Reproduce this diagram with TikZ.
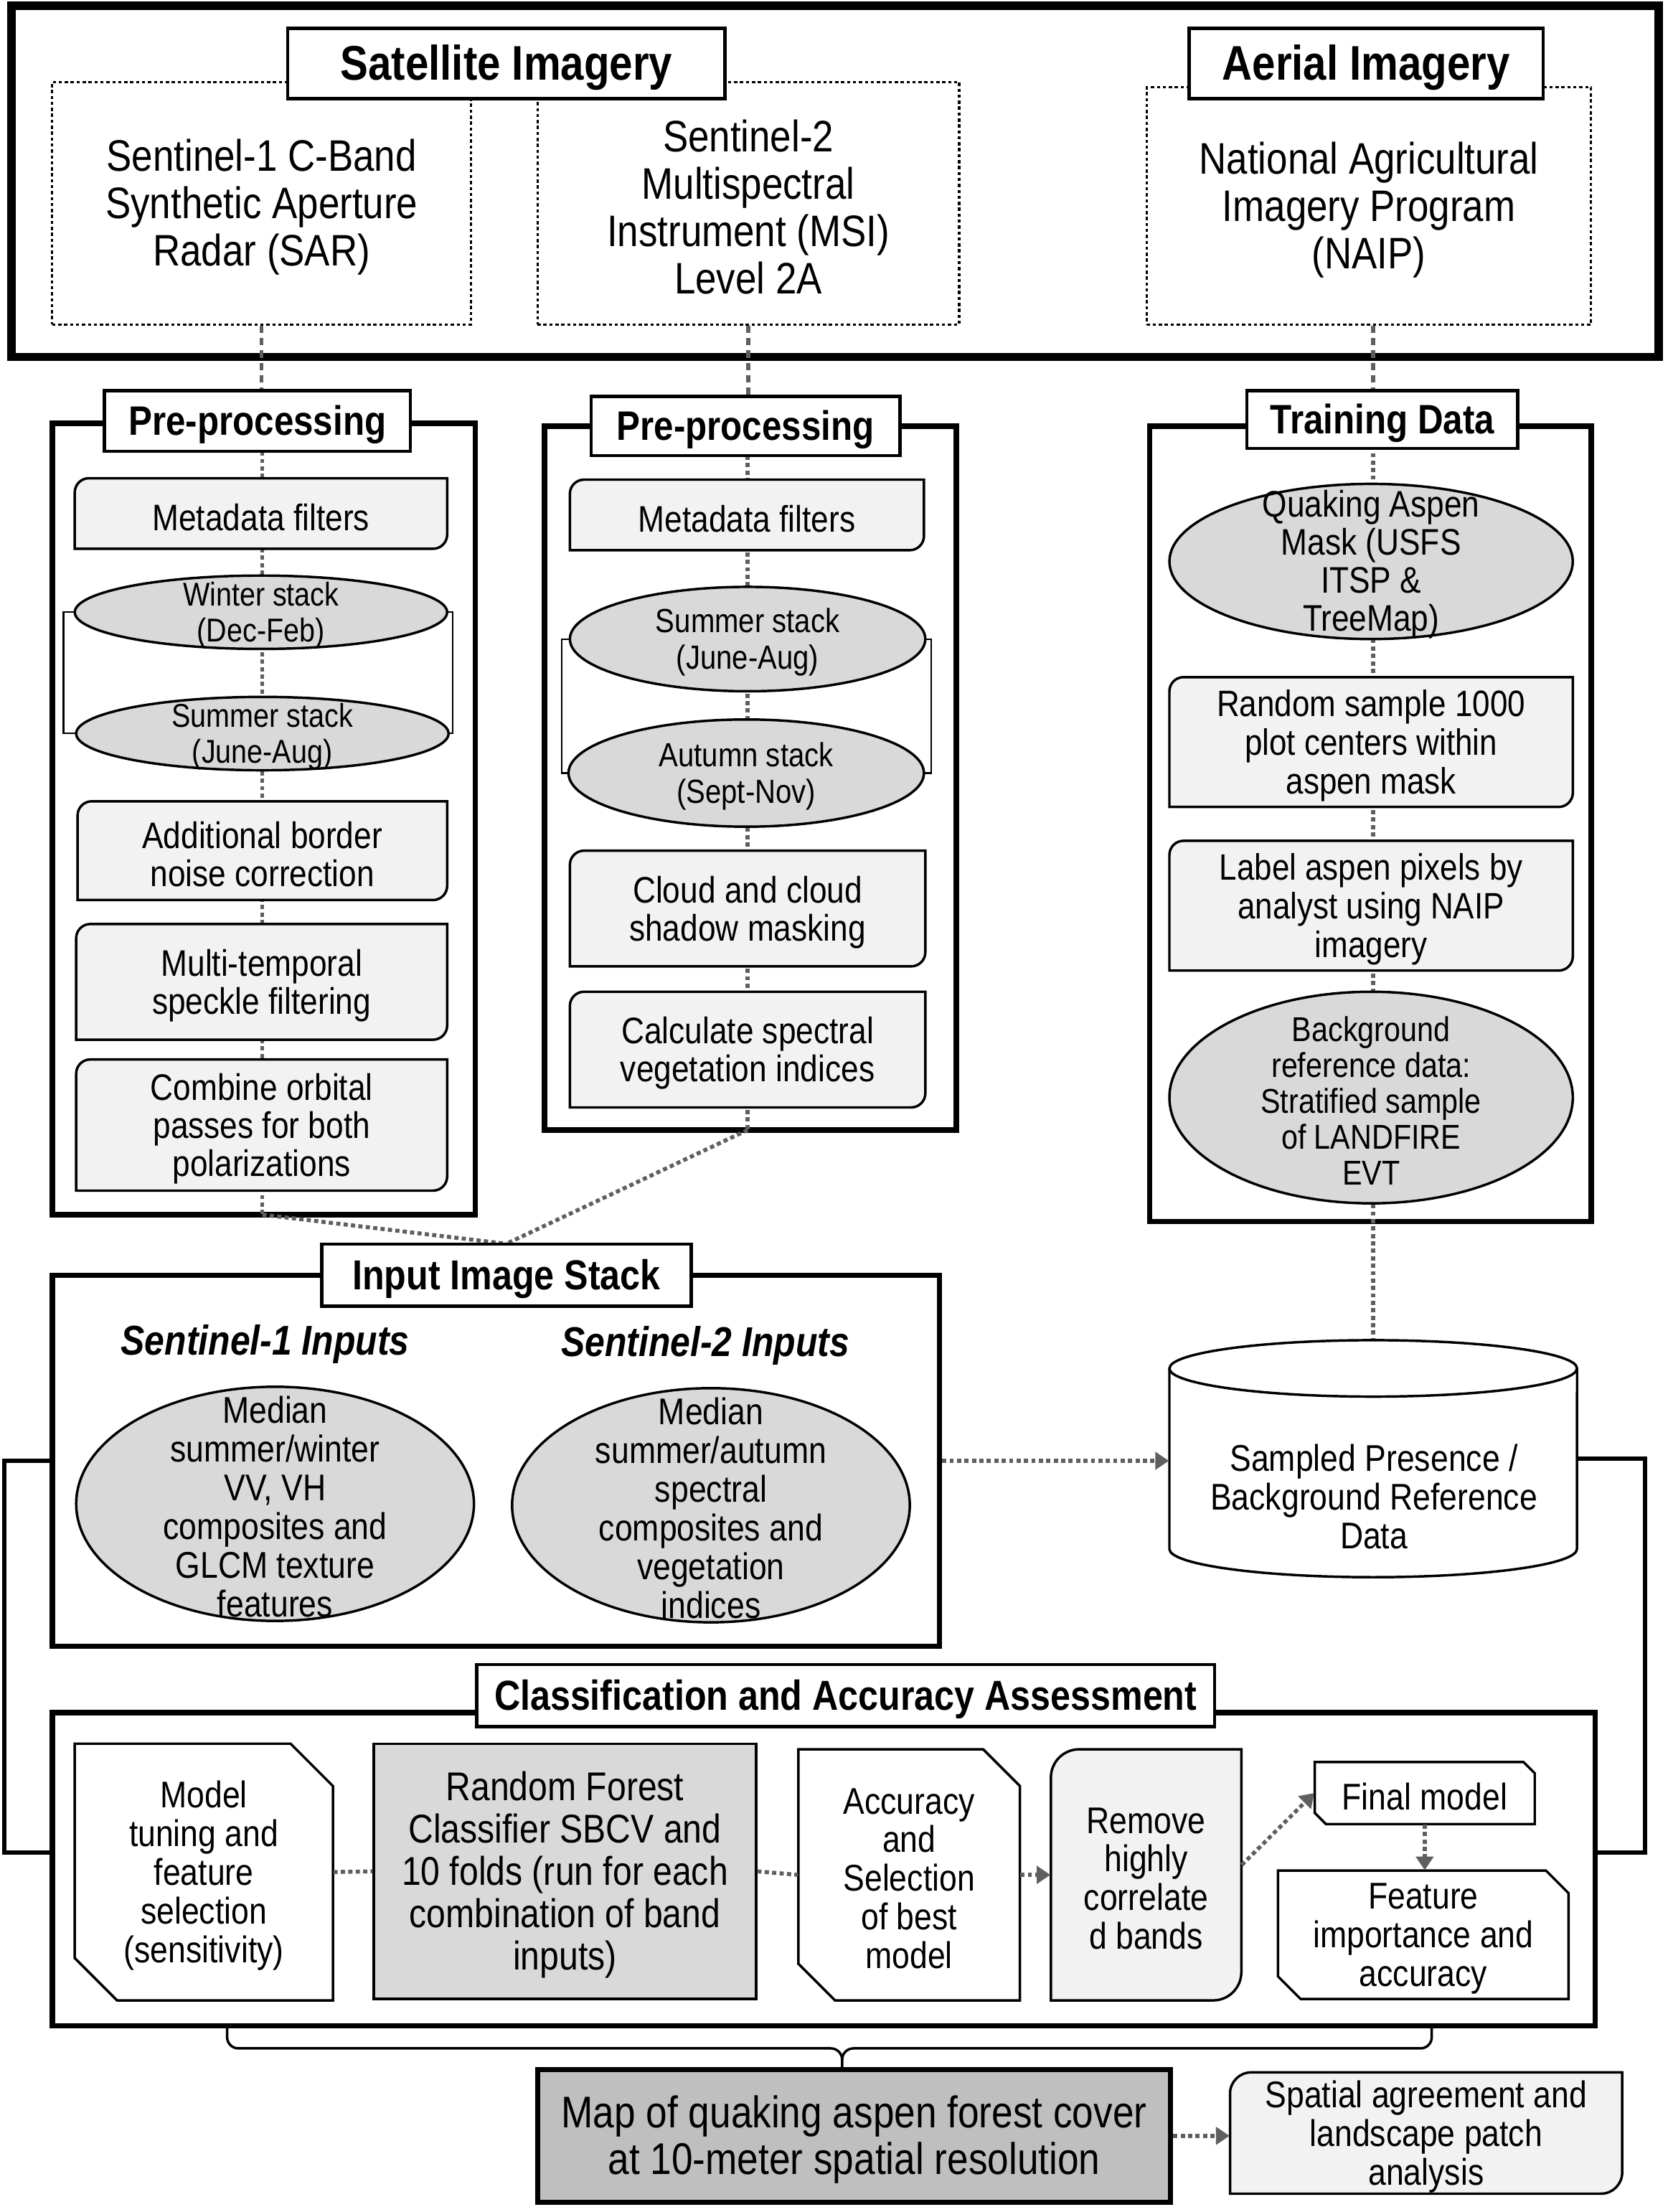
\documentclass[tikz,border=0pt]{standalone}
\usepackage{fontspec}
\setmainfont{Liberation Sans}
\newfontfamily\nar[FakeStretch=0.86]{Liberation Sans}
\usetikzlibrary{shapes.geometric,arrows.meta}
\definecolor{lightg}{HTML}{F2F2F2}
\definecolor{midg}{HTML}{D9D9D9}
\definecolor{darkg}{HTML}{BFBFBF}
\definecolor{connc}{HTML}{5F5F5F}

\newcommand\boxat[7]{%
 \node[#6,inner sep=0pt,minimum width={(#4-#2)*0.5691pt},minimum height={(#5-#3)*0.5691pt}] (#1) at ({(#2+#4)/2},{(#3+#5)/2}) {};
 \node[#6,draw=none,fill=none,inner sep=0pt,yshift=-1.5pt] (#1x) at ({(#2+#4)/2},{(#3+#5)/2}) {#7};}
\newcommand\leafbox[8]{%
 \draw[leafdraw] (#2,#5) -- (#2,#3+#6) .. controls (#2,#3+0.448*#6) and (#2+0.448*#6,#3) .. (#2+#6,#3) -- (#4,#3) -- (#4,#5-#6) .. controls (#4,#5-0.448*#6) and (#4-0.448*#6,#5) .. (#4-#6,#5) -- cycle;
 \boxat{#1}{#2}{#3}{#4}{#5}{#7}{#8}}
\newcommand\cardbox[8]{%
 \draw[carddraw] (#2,#3) -- (#4-#6,#3) -- (#4,#3+#6) -- (#4,#5) -- (#2+#6,#5) -- (#2,#5-#6) -- cycle;
 \boxat{#1}{#2}{#3}{#4}{#5}{#7}{#8}}
\newcommand\ellbox[7]{%
 \node[ellipse,draw,fill=midg,line width=1pt,inner sep=0pt,minimum width={2*#4*0.5691pt},minimum height={2*#5*0.5691pt}] (#1) at (#2,#3) {};
 \node[#6,yshift=-1.2pt] (#1t) at (#2,#3) {#7};}

\tikzset{
 topbox/.style={draw, line width=3.4pt, fill=white},
 secbox/.style={draw, line width=2.2pt, fill=white},
 ttlbox/.style={draw, line width=1.3pt, fill=white},
 srcbox/.style={draw, line width=0.9pt, dash pattern=on 1.3pt off 1.1pt},
 leafdraw/.style={draw, line width=1pt, fill=lightg},
 carddraw/.style={draw, line width=1pt, fill=white},
 conn/.style={draw=connc, line width=1.6pt, dash pattern=on 1.7pt off 1.3pt},
 topconn/.style={draw=connc, line width=1.6pt, dash pattern=on 3pt off 2pt},
 arr/.style={conn, -{Triangle[length=5.5pt,width=7pt]}},
 thk/.style={draw, line width=1.8pt},
 fsrc/.style={font=\nar\fontsize{17.8}{19.1}\selectfont, align=center},
 fttl/.style={font=\nar\bfseries\fontsize{19.6}{22}\selectfont, align=center},
 fsec/.style={font=\nar\bfseries\fontsize{16.9}{20}\selectfont, align=center},
 fsub/.style={font=\nar\bfseries\itshape\fontsize{16.8}{20}\selectfont, align=center},
 fin/.style={font=\nar\fontsize{15}{15.6}\selectfont, align=center},
 frf/.style={font=\nar\fontsize{16.2}{17.1}\selectfont, align=center},
 fmap/.style={font=\nar\fontsize{17.9}{18.8}\selectfont, align=center},
 fw/.style={font=\nar\fontsize{14.9}{15.4}\selectfont, align=center},
 fwt/.style={font=\nar\fontsize{14.8}{15.6}\selectfont, align=center},
 fwe/.style={font=\nar\fontsize{13.3}{14.3}\selectfont, align=center},
 fwf/.style={font=\nar\fontsize{13.5}{14.8}\selectfont, align=center},
 fwq/.style={font=\nar\fontsize{14.9}{15.4}\selectfont, align=center},
 fwb/.style={font=\nar\fontsize{13.9}{14.5}\selectfont, align=center},
 fwttl/.style={font=\nar\bfseries\fontsize{16.6}{19}\selectfont, align=center},
}

\begin{document}
\begin{tikzpicture}[x=0.02cm, y=-0.02cm]
\useasboundingbox (0,0) rectangle (1182,1568);

% ---------- top imagery section
\boxat{top}{8}{4}{1176}{253}{topbox}{}
\boxat{s1}{37}{58}{334}{230}{srcbox,fsrc}{Sentinel-1 C-Band\\Synthetic Aperture\\Radar (SAR)}
\boxat{s2}{381}{58}{680}{230}{srcbox,fsrc}{Sentinel-2\\Multispectral\\Instrument (MSI)\\Level 2A}
\boxat{naip}{813}{62}{1128}{230}{srcbox,fsrc}{National Agricultural\\Imagery Program\\(NAIP)}
\boxat{sat}{204}{20}{514}{70}{ttlbox,fttl}{Satellite Imagery}
\boxat{aer}{843}{20}{1094}{70}{ttlbox,fttl}{Aerial Imagery}

% ---------- section frames
\boxat{pp1}{37}{300}{337}{861}{secbox}{}
\boxat{pp2}{386}{302}{678}{801}{secbox}{}
\boxat{tr}{815}{302}{1128}{866}{secbox}{}
\boxat{inp}{37}{904}{666}{1167}{secbox}{}
\boxat{cls}{37}{1214}{1131}{1436}{secbox}{}
\boxat{cyl}{829}{950}{1118}{1118}{}{}
\boxat{pp1t}{74}{277}{291}{320}{}{}
\boxat{pp2t}{419}{281}{638}{323}{}{}
\boxat{inpt}{228}{882}{490}{926}{}{}

% ---------- dotted connectors behind boxes
\draw[topconn] (s1.south) -- (s1.south |- pp1t.north);
\draw[conn] (186,320) coordinate (p1a) -- (186,861) coordinate (p1b);
\draw[conn] (p1b) -- (inpt.north);
\draw[topconn] (s2.south) -- (s2.south |- pp2t.north);
\draw[conn] (530,323) coordinate (p2a) -- (530,801) coordinate (p2b);
\draw[conn] (p2b) -- (inpt.north);
\draw[topconn] (cyl.north |- naip.south) -- (cyl.north |- tr.north);
\draw[conn] (cyl.north |- tr.north) -- (cyl.north);

% ---------- brackets behind stacks
\draw[line width=0.6pt] (45,434) rectangle (321,520);
\draw[line width=0.6pt] (398,453) rectangle (660,548);

% ---------- pre-processing 1
\leafbox{meta1}{53}{339}{317}{389}{10}{fw}{Metadata filters}
\ellbox{win}{185}{434}{132}{26}{fwe}{Winter stack\\(Dec-Feb)}
\ellbox{sum1}{186}{520}{132}{26}{fwe}{Summer stack\\(June-Aug)}
\leafbox{add}{55}{568}{317}{638}{10}{fw}{Additional border\\noise correction}
\leafbox{multi}{54}{655}{317}{737}{10}{fw}{Multi-temporal\\speckle filtering}
\leafbox{comb}{54}{751}{317}{844}{10}{fw}{Combine orbital\\passes for both\\polarizations}

% ---------- pre-processing 2
\leafbox{meta2}{404}{340}{655}{390}{10}{fw}{Metadata filters}
\ellbox{sum2}{530}{453}{126}{37}{fwf}{Summer stack\\(June-Aug)}
\ellbox{aut}{529}{548}{126}{38}{fwf}{Autumn stack\\(Sept-Nov)}
\leafbox{cloud}{404}{603}{656}{685}{10}{fw}{Cloud and cloud\\shadow masking}
\leafbox{calc}{404}{703}{656}{785}{10}{fw}{Calculate spectral\\vegetation indices}

% ---------- training data
\ellbox{qa}{972}{398}{143}{55}{fwq}{Quaking Aspen\\Mask (USFS\\ITSP \&\\TreeMap)}
\leafbox{rs}{829}{480}{1115}{572}{10}{fwt}{Random sample 1000\\plot centers within\\aspen mask}
\leafbox{lab}{829}{596}{1115}{688}{10}{fwt}{Label aspen pixels by\\analyst using NAIP\\imagery}
\ellbox{bg}{972}{778}{143}{75}{fwb}{Background\\reference data:\\Stratified sample\\of LANDFIRE\\EVT}

% ---------- section titles
\boxat{pp1title}{74}{277}{291}{320}{ttlbox,fwttl}{Pre-processing}
\boxat{pp2title}{419}{281}{638}{323}{ttlbox,fwttl}{Pre-processing}
\boxat{trtitle}{884}{277}{1076}{318}{ttlbox,fwttl}{Training Data}
\boxat{inptitle}{228}{882}{490}{926}{ttlbox,fsec}{Input Image Stack}
\boxat{clstitle}{338}{1180}{861}{1224}{ttlbox,fsec}{Classification and Accuracy Assessment}

% ---------- input image stack
\node[fsub] (s1in) at (188,953) {Sentinel-1 Inputs};
\node[fsub] (s2in) at (500,954) {Sentinel-2 Inputs};
\ellbox{e1}{195}{1066}{141}{83}{fin}{Median\\summer/winter\\VV, VH\\composites and\\GLCM texture\\features}
\ellbox{e2}{504}{1067}{141}{83}{fin}{Median\\summer/autumn\\spectral\\composites and\\vegetation\\indices}

% ---------- cylinder
\draw[line width=1pt, fill=white] (829,970) -- (829,1098) arc[start angle=180,end angle=360,x radius=2.89cm,y radius=0.4cm] -- (1118,970) arc[start angle=0,end angle=180,x radius=2.89cm,y radius=0.4cm] -- cycle;
\draw[line width=1pt] (829,970) arc[start angle=180,end angle=360,x radius=2.89cm,y radius=0.4cm];
\node[fin] (cyltxt) at (974,1061) {Sampled Presence /\\Background Reference\\Data};
\draw[arr] (inp.east) -- (inp.east -| cyl.west);

% ---------- thick black connectors
\draw[thk] (inp.west) -- ++(-32,0) |- ([yshift=6.8pt]cls.west);
\draw[thk] (cyl.east) -- ++(48,0) |- ([yshift=6.8pt]cls.east);

% ---------- classification
\cardbox{model}{53}{1236}{236}{1418}{30}{fin}{Model\\tuning and\\feature\\selection\\(sensitivity)}
\boxat{rf}{265}{1236}{536}{1417}{draw,line width=1pt,fill=midg,frf}{Random Forest\\Classifier SBCV and\\10 folds (run for each\\combination of band\\inputs)}
\cardbox{acc}{566}{1240}{723}{1418}{26}{fin}{Accuracy\\and\\Selection\\of best\\model}
\leafbox{rem}{745}{1240}{880}{1418}{20}{fin}{Remove\\highly\\correlate\\d bands}
\cardbox{fin}{932}{1249}{1088}{1293}{8}{fin}{Final model}
\cardbox{feat}{906}{1326}{1112}{1417}{16}{fin}{Feature\\importance and\\accuracy}
\draw[conn] (model.east) -- (rf.west);
\draw[conn] (rf.east) -- (acc.west);
\draw[arr] (acc.east) -- (rem.west);
\draw[arr] ([yshift=4pt]rem.east) -- (fin.west);
\draw[arr] (fin.south) -- (fin.south |- feat.north);

% ---------- brace, map, spatial
\boxat{map}{381}{1467}{830}{1561}{draw,line width=2pt,fill=darkg,fmap}{Map of quaking aspen forest cover\\at 10-meter spatial resolution}
\leafbox{sp}{872}{1469}{1150}{1555}{15}{fin}{Spatial agreement and\\landscape patch\\analysis}
\coordinate (bl) at (161,1437);
\coordinate (br) at (1015,1437);
\coordinate (bs) at (597,1467);
\draw[line width=1pt] (bl) -- (161,1444) to[out=-90,in=180] (169,1452) -- (589,1452) to[out=0,in=90] (597,1460) -- (bs);
\draw[line width=1pt] (br) -- (1015,1444) to[out=-90,in=0] (1007,1452) -- (605,1452) to[out=180,in=90] (597,1460);
\draw[arr] (map.east) -- (map.east -| sp.west);
\end{tikzpicture}
\end{document}
